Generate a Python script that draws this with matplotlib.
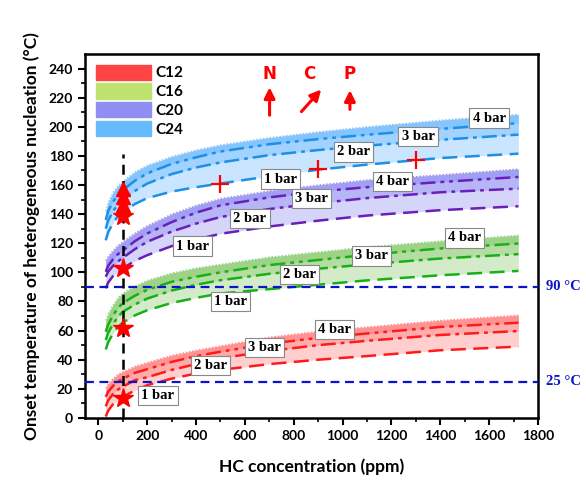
import matplotlib.pyplot as plt
from matplotlib.patches import Patch

# HC concentration (ppm) where the curves were read
hc = [30, 40, 60, 80, 100, 150, 200, 300, 400, 500, 700, 900, 1100, 1400, 1720]

# onset temperature (C) for 1, 2, 3, 4 bar
c12 = [
    [1, 5, 9.5, 12.5, 14.5, 19, 22.5, 27, 30.5, 33, 37, 40, 42.5, 46.5, 49],
    [8, 12, 16.5, 19.5, 21.5, 26, 28, 33, 37, 41, 46, 50, 53, 57, 59.7],
    [14.5, 18, 22, 25, 27, 31, 33.5, 38.5, 42.5, 45.5, 51, 55, 58, 62.5, 65.4],
    [20.5, 23.5, 27, 30, 31.8, 35.5, 38, 43, 46.5, 49.5, 55.5, 59.5, 62.5, 67, 70.6],
]
c16 = [
    [47, 52, 58, 62.5, 65.5, 70.5, 74, 79, 82.5, 85.5, 88.5, 91.5, 94.5, 98, 101],
    [53.5, 58.5, 64.5, 69.5, 72.9, 78, 82, 87.5, 91.5, 94.6, 99, 102.5, 105.5, 109.5, 112.5],
    [59.2, 64, 70.5, 75.5, 78.9, 84, 88, 93.5, 97, 100, 105, 108.5, 112, 116.4, 119.8],
    [67, 71.5, 77.5, 82.5, 85.7, 90.5, 94.5, 99.5, 103, 105.5, 110.5, 114, 117.5, 121.5, 125.5],
]
c20 = [
    [89, 93, 97.5, 100.5, 102.7, 108, 111.8, 118, 122.5, 126.5, 131.5, 135.5, 139, 142.7, 145.4],
    [97, 100.5, 104.5, 107.5, 110, 116, 121, 128, 133.5, 138, 143.5, 147.5, 151, 155, 157.5],
    [100.4, 104.5, 109, 112.5, 115, 121.5, 126.7, 134.5, 141, 146, 151.5, 155.5, 158.5, 162, 165.5],
    [108, 111, 115, 118.5, 121, 127, 132, 140, 146, 150.7, 156, 160, 163.5, 167, 171],
]
c24 = [
    [122, 127.5, 134, 138.5, 141.5, 147, 151, 155.5, 158.5, 161, 166, 170.5, 174, 178.5, 181.5],
    [130, 135.5, 142, 146.5, 150, 156, 161, 167.5, 172, 175.5, 180.5, 184, 187, 191, 194.6],
    [136, 142, 148.5, 153, 156.5, 163, 168, 174.5, 179, 183, 188, 191.5, 194.5, 198.5, 202.5],
    [142, 148, 155, 159.5, 162.5, 169, 173.5, 179.5, 184, 187.5, 192.5, 196.5, 200, 204.5, 208.5],
]

names = ['C12', 'C16', 'C20', 'C24']
pressures = ['1 bar', '2 bar', '3 bar', '4 bar']

# experimental points at 100 ppm
star_x = [100, 100, 100, 100]
star_y = [14, 62, 103, 138.5]
tri_x = [100, 100, 100]
tri_y = [146, 151.5, 157]
cross_x = [500, 900, 1300]
cross_y = [161, 171, 177]

limits = [25, 90]

# where the "x bar" boxes sit on each band
label_pos = [
    [(244, 15.3), (458, 35.9), (680, 48.5), (966, 60.8)],
    [(540, 80), (824, 98.5), (1119, 111.3), (1500, 123.7)],
    [(385, 118), (620, 137), (872, 150.7), (1204, 162.5)],
    [(745, 164), (1044, 182.7), (1309, 193.4), (1600, 206)],
]

legend_colors = ['#ff4444', '#bde26e', '#8f8ff2', '#66bbff']
fill_colors = ['#ff5050', '#62b83c', '#6464f0', '#3aa2ff']
line_colors = ['#ff1a1a', '#17b017', '#6a1fb8', '#1c8fe6']
styles = [(0, (6, 3)), (0, (6, 2, 1.5, 2)), (0, (6, 2, 1.5, 2, 1.5, 2)), (0, (1.5, 1.5))]

plt.rcParams['font.family'] = ['Lato', 'DejaVu Sans']
plt.rcParams['font.weight'] = 'bold'

fig = plt.figure(figsize=(5.86, 4.86), dpi=100)
ax = fig.add_axes([0.145, 0.14, 0.773, 0.749])

for k, band in enumerate([c12, c16, c20, c24]):
    for j in range(3):
        ax.fill_between(hc, band[j], band[3], color=fill_colors[k], alpha=0.27, lw=0)
    for j in range(4):
        lw = 1.8 if j < 3 else 0.8
        ax.plot(hc, band[j], color=line_colors[k], ls=styles[j], lw=lw, alpha=1 if j < 3 else 0.5)
    for j in range(4):
        x, y = label_pos[k][j]
        ax.text(x, y, pressures[j], ha='center', va='center', fontsize=10.5,
                family='Liberation Serif', fontweight='bold', zorder=6,
                bbox=dict(boxstyle='square,pad=0.22', fc='white', ec='#888888', lw=0.8))

for t in limits:
    ax.axhline(t, color='#0a14c8', ls=(0, (4, 2.5)), lw=1.6, zorder=3)
    ax.text(1835, t, '%d °C' % t, color='#0a14c8', fontsize=10.5, family='Liberation Serif',
            fontweight='bold', va='center', ha='left', clip_on=False)

ax.plot([100, 100], [0, 181], color='black', ls=(0, (4, 2.5)), lw=1.8, zorder=4)
ax.plot(star_x, star_y, ls='none', marker='*', ms=15, color='red', mec='red', zorder=5)
ax.plot(tri_x, tri_y, ls='none', marker='^', ms=10, color='red', zorder=5)
ax.plot(cross_x, cross_y, ls='none', marker='+', ms=13, mew=1.6, color='red', zorder=5)

# N / C / P markers with arrows
for letter, lx, ax0, ay0, ax1, ay1 in [('N', 701, 701, 206, 701, 229),
                                       ('C', 863, 824, 209, 920, 227),
                                       ('P', 1029, 1030, 210, 1030, 227)]:
    ax.text(lx, 236, letter, color='red', fontsize=12, fontweight='bold',
            ha='center', va='center', family='DejaVu Sans')
    ax.annotate('', xy=(ax1, ay1), xytext=(ax0, ay0),
                arrowprops=dict(arrowstyle='-|>', color='red', lw=2.2, mutation_scale=16))

ax.set_xlim(-55, 1800)
ax.set_ylim(0, 250)
ax.set_xticks(range(0, 1801, 200))
ax.set_yticks(range(0, 241, 20))
ax.set_xticks(range(0, 1801, 100), minor=True)
ax.set_yticks(range(0, 250, 10), minor=True)
ax.tick_params(which='major', length=5, width=1.5, labelsize=10)
ax.tick_params(which='minor', length=3, width=1.2)
for s in ax.spines.values():
    s.set_linewidth(1.8)

ax.set_xlabel('HC concentration (ppm)', fontsize=12.5, fontweight='bold', labelpad=12)
ax.set_ylabel('Onset temperature of heterogeneous nucleation (°C)', fontsize=12.5,
              fontweight='bold', labelpad=6)

handles = [Patch(color=c) for c in legend_colors]
ax.legend(handles, names, loc='upper left', frameon=False,
          handlelength=3.6, handleheight=1.15, labelspacing=0.2, handletextpad=0.3,
          borderaxespad=0.3, prop={'weight': 'bold', 'size': 11})

fig.savefig('out.png', dpi=100)
